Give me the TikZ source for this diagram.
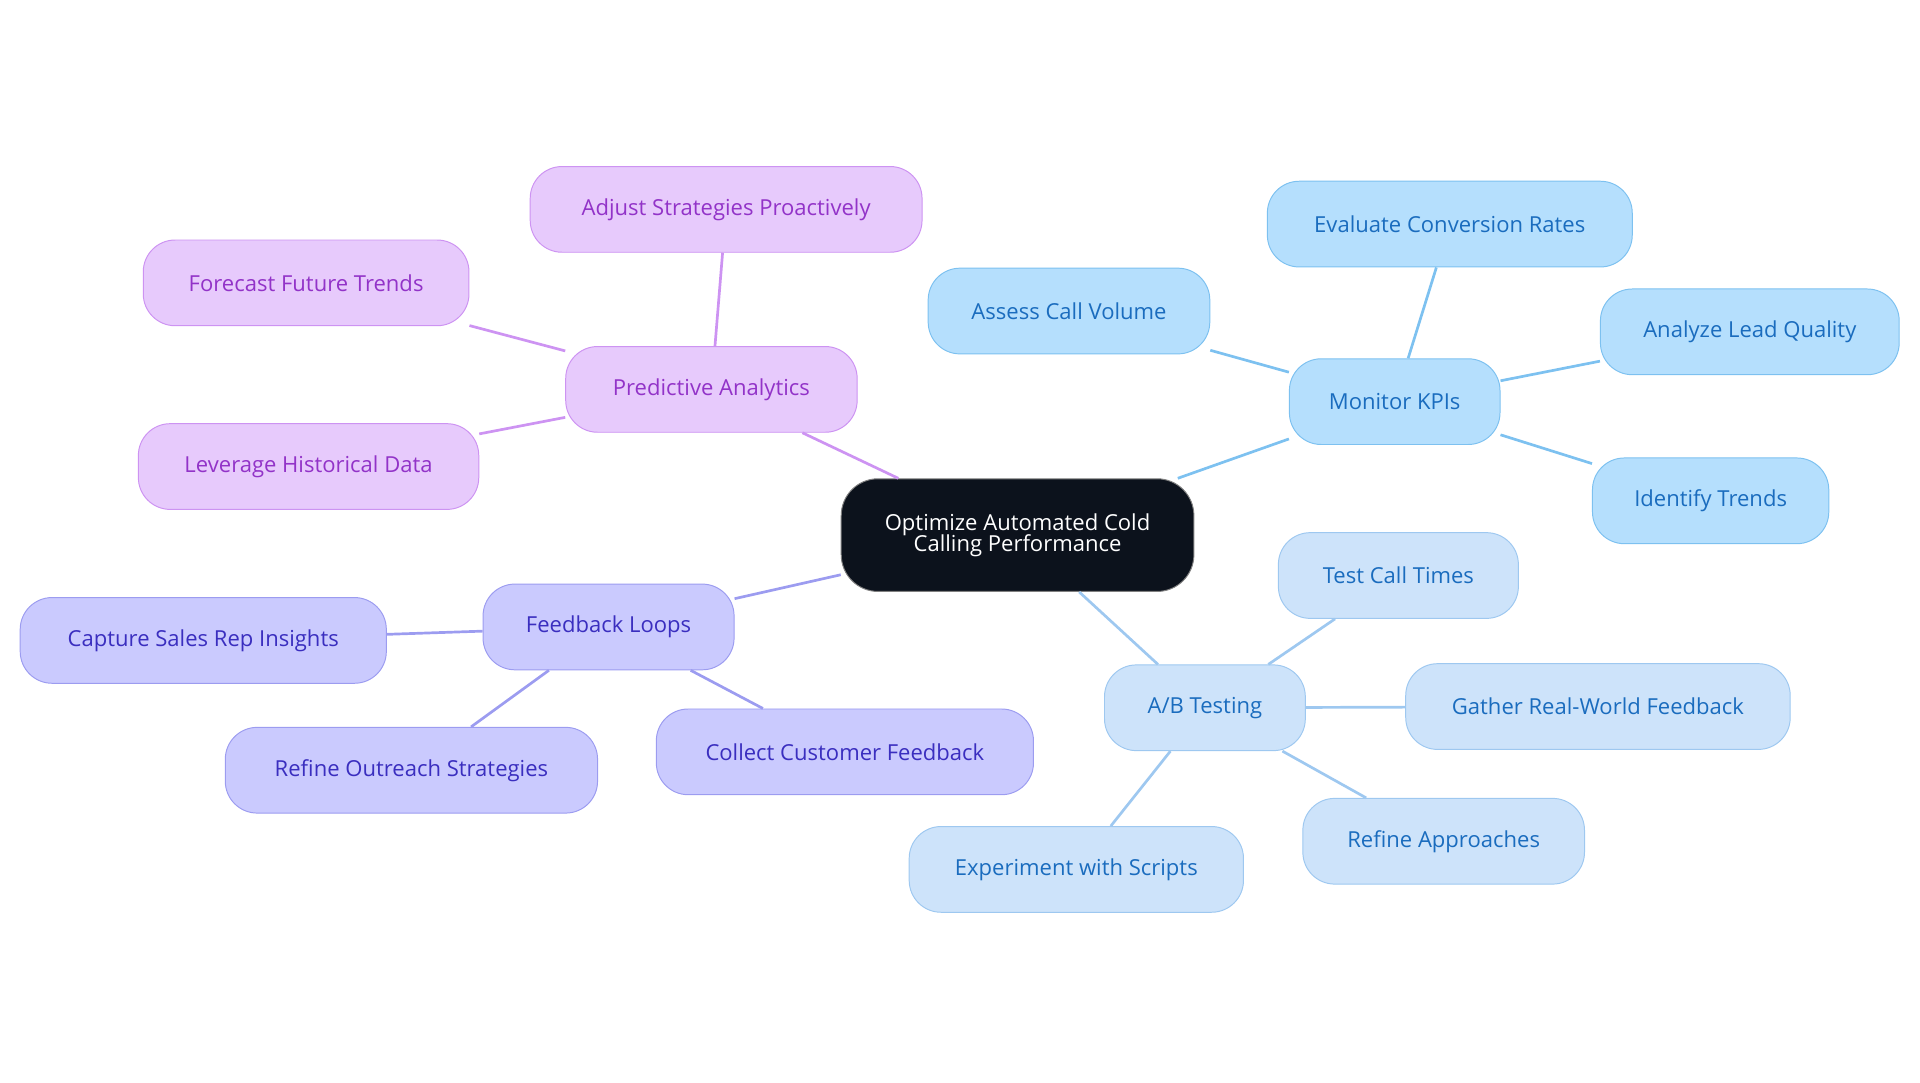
\documentclass[tikz,border=0pt]{standalone}
\usepackage{fontspec}
\setmainfont{Open Sans}
\begin{document}
\begin{tikzpicture}[x=1pt,y=-1pt,
 box/.style={rounded corners=26pt,minimum height=70pt,line width=0.8pt,font=\fontsize{18}{20}\selectfont,align=center,inner sep=0pt},
 pa/.style={box,fill=pf,draw=pd,text=pt},
 kp/.style={box,fill=kf,draw=kd,text=kt},
 ab/.style={box,fill=af,draw=ad,text=kt},
 fb/.style={box,fill=ff,draw=fd,text=ft},
 ln/.style={line width=2.2pt}]
\definecolor{pf}{HTML}{E7CAFC}\definecolor{pd}{HTML}{CD93F2}\definecolor{pt}{HTML}{9233C8}
\definecolor{kf}{HTML}{B5DFFD}\definecolor{kd}{HTML}{7DC1F0}\definecolor{kt}{HTML}{1A6CBE}
\definecolor{af}{HTML}{CDE3FA}\definecolor{ad}{HTML}{9EC8F0}
\definecolor{ff}{HTML}{CACAFE}\definecolor{fd}{HTML}{9C9CF0}\definecolor{ft}{HTML}{3A2EBF}
\useasboundingbox (0,0) rectangle (1568,884);
\node[box,fill=black!90!blue!60!black,fill={rgb,255:red,12;green,18;blue,28},draw=gray,text=white,minimum width=288pt,minimum height=92pt,rounded corners=30pt] (c) at (831,437) {Optimize Automated Cold\\[-3pt]Calling Performance};
\node[pa,minimum width=238pt] (p) at (581,318) {Predictive Analytics};
\node[pa,minimum width=320pt] (p1) at (593,171) {Adjust Strategies Proactively};
\node[pa,minimum width=266pt] (p2) at (250,231) {Forecast Future Trends};
\node[pa,minimum width=278pt] (p3) at (252,381) {Leverage Historical Data};
\node[kp,minimum width=172pt] (k) at (1139,328) {Monitor KPIs};
\node[kp,minimum width=298pt] (k1) at (1184,183) {Evaluate Conversion Rates};
\node[kp,minimum width=230pt] (k2) at (873,254) {Assess Call Volume};
\node[kp,minimum width=244pt] (k3) at (1429,271) {Analyze Lead Quality};
\node[kp,minimum width=193pt] (k4) at (1397,409) {Identify Trends};
\node[ab,minimum width=164pt] (a) at (984,578) {A/B Testing};
\node[ab,minimum width=196pt] (a1) at (1142,470) {Test Call Times};
\node[ab,minimum width=314pt] (a2) at (1305,577) {Gather Real-World Feedback};
\node[ab,minimum width=230pt] (a3) at (1179,687) {Refine Approaches};
\node[ab,minimum width=273pt] (a4) at (879,710) {Experiment with Scripts};
\node[fb,minimum width=205pt] (f) at (497,512) {Feedback Loops};
\node[fb,minimum width=299pt] (f1) at (166,523) {Capture Sales Rep Insights};
\node[fb,minimum width=304pt] (f2) at (336,629) {Refine Outreach Strategies};
\node[fb,minimum width=308pt] (f3) at (690,614) {Collect Customer Feedback};
\begin{scope}[on background layer/.style={}]
\end{scope}
\draw[ln,pd] (c) -- (p); \draw[ln,pd] (p) -- (p1); \draw[ln,pd] (p) -- (p2); \draw[ln,pd] (p) -- (p3);
\draw[ln,kd] (c) -- (k); \draw[ln,kd] (k) -- (k1); \draw[ln,kd] (k) -- (k2); \draw[ln,kd] (k) -- (k3); \draw[ln,kd] (k) -- (k4);
\draw[ln,ad] (c) -- (a); \draw[ln,ad] (a) -- (a1); \draw[ln,ad] (a) -- (a2); \draw[ln,ad] (a) -- (a3); \draw[ln,ad] (a) -- (a4);
\draw[ln,fd] (c) -- (f); \draw[ln,fd] (f) -- (f1); \draw[ln,fd] (f) -- (f2); \draw[ln,fd] (f) -- (f3);
\end{tikzpicture}
\end{document}
